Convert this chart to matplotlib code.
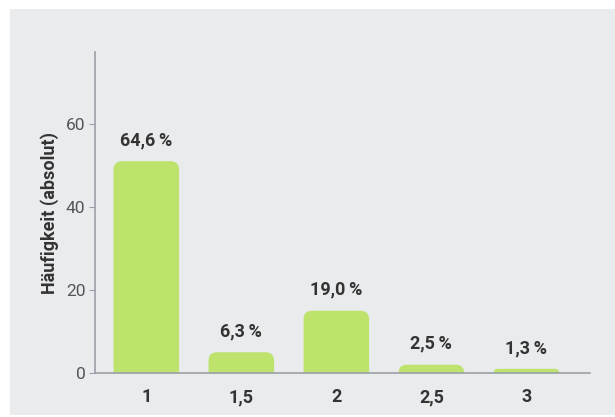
import matplotlib.pyplot as plt
from matplotlib.patches import FancyBboxPatch, Rectangle

noten = ["1", "1,5", "2", "2,5", "3"]
haeufigkeit = [51, 5, 15, 2, 1]
anteile = ["64,6\u2009%", "6,3\u2009%", "19,0\u2009%", "2,5\u2009%", "1,3\u2009%"]

gruen = "#bde36c"
grau_bg = "#e9ebed"

plt.rcParams["font.family"] = ["Roboto", "DejaVu Sans"]

fig = plt.figure(figsize=(6.15, 4.17), dpi=100, facecolor="white")
fig.patches.append(Rectangle((10 / 615, 2 / 417), 1, 406 / 417,
                             transform=fig.transFigure, facecolor=grau_bg,
                             edgecolor="none", zorder=-10))

ax = fig.add_axes([95 / 615, 44 / 417, 495 / 615, 321 / 417])
ax.set_facecolor("none")

x = list(range(len(noten)))
bars = ax.bar(x, haeufigkeit, width=0.69, color=gruen)

ax.set_xlim(-0.54, 4.67)
ax.set_ylim(0, 77.3)

# runde Ecken oben
aspect = (321 / 77.3) ** -1 / (495 / 5.21) ** -1
r = 0.09
for b in bars:
    b.set_visible(False)
    rr = min(r, b.get_height() / aspect)
    p = FancyBboxPatch((b.get_x(), -rr * aspect), b.get_width(),
                       b.get_height() + rr * aspect,
                       boxstyle=f"round,pad=0,rounding_size={rr}",
                       mutation_aspect=aspect, facecolor=gruen,
                       edgecolor="none", clip_on=True)
    ax.add_patch(p)

for xi, h, t in zip(x, haeufigkeit, anteile):
    ax.annotate(t, (xi, h), xytext=(0, 15), textcoords="offset points",
                ha="center", va="center", fontsize=13, fontweight="bold",
                color="#333333")

ax.set_xticks(x)
ax.set_xticklabels(noten, fontsize=13, fontweight="bold", color="#333333")
ax.set_yticks([0, 20, 40, 60])
ax.tick_params(axis="y", length=4, color="#9aa0a8", labelsize=12.5,
               labelcolor="#555555", pad=3)
ax.tick_params(axis="x", length=0, pad=11)

for s in ["top", "right"]:
    ax.spines[s].set_visible(False)
ax.spines["left"].set_color("#9aa0a8")
ax.spines["bottom"].set_color("#9aa0a8")
ax.spines["left"].set_linewidth(1.2)
ax.spines["bottom"].set_linewidth(1.2)

ax.set_ylabel("Häufigkeit (absolut)", fontsize=13, fontweight="bold",
              color="#333333", labelpad=5)

fig.savefig("out.png", dpi=100, facecolor="white")
